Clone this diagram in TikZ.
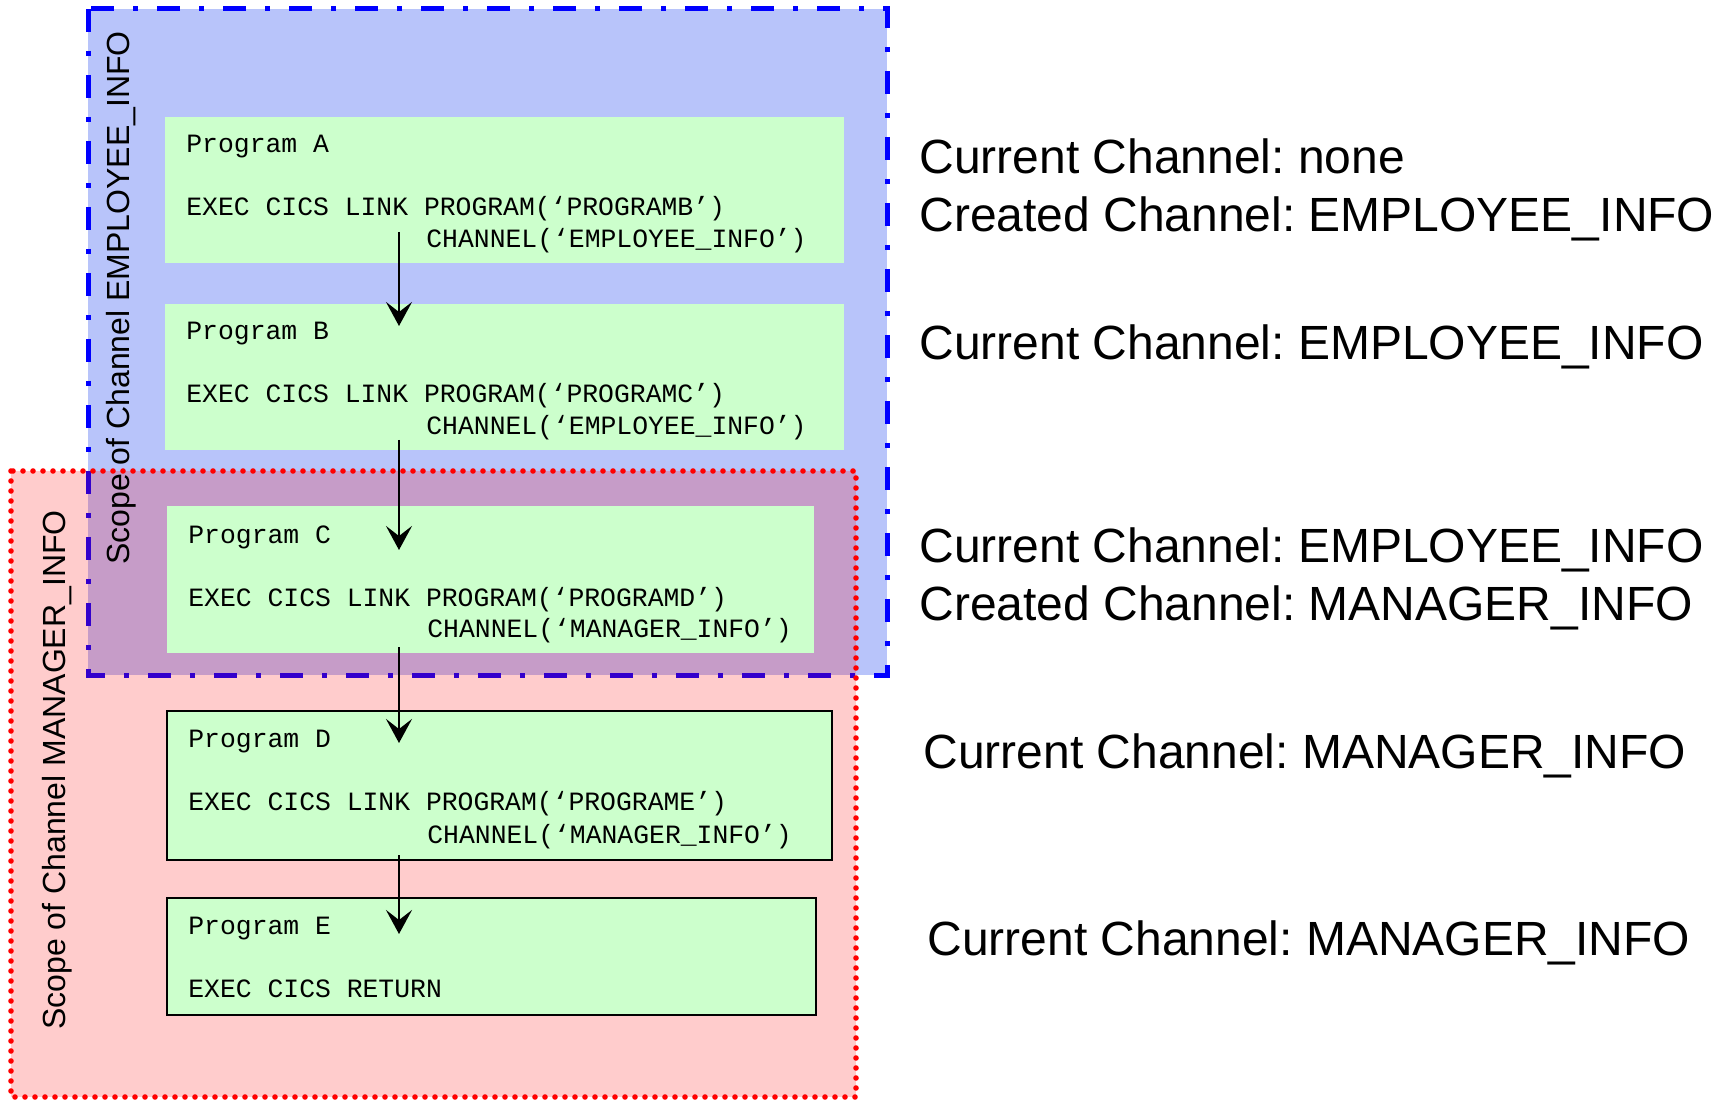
\documentclass[tikz,border=0pt]{standalone}
\usepackage{fontspec}
\setmainfont{Liberation Sans}
\newfontfamily\codefont{Liberation Mono}
\usetikzlibrary{arrows.meta}
\frenchspacing
\definecolor{scopeBlue}{RGB}{184,196,250}
\definecolor{progGreen}{RGB}{204,255,204}
\tikzset{
  prog/.style={fill=progGreen, inner sep=0pt, outer sep=0pt, anchor=north west},
  progframed/.style={prog, draw=black, line width=1.2pt},
  code/.style={font=\codefont\fontsize{13.2}{16}\selectfont, anchor=base west, inner sep=0pt},
  note/.style={font=\fontsize{24}{29}\selectfont, anchor=base west, inner sep=0pt},
  scopelbl/.style={font=\fontsize{16}{19}\selectfont, rotate=90, anchor=base, inner sep=0pt},
  flow/.style={line width=1.2pt, -{Stealth[length=12pt,width=13pt,inset=5pt]}},
  blueborder/.style={draw=blue, line width=2.5pt, dash pattern=on 11.5pt off 9.5pt on 2.5pt off 9.5pt},
  redborder/.style={draw=red, line width=2.8pt, line cap=round, dash pattern=on 0pt off 5pt}
}
\begin{document}
\begin{tikzpicture}[x=0.5pt,y=-0.5pt]
\useasboundingbox (0,0) rectangle (1725,1101);
% blue scope
\fill[scopeBlue] (88,9) rectangle (887,675);
\draw[blueborder] (88,9) rectangle (887,675);
% programs A and B
\node[prog, minimum width=339.5pt, minimum height=73pt] (A) at (165,117) {};
\node[prog, minimum width=339.5pt, minimum height=73pt] (B) at (165,304) {};
% red scope
\fill[red, opacity=0.2] (11,471) rectangle (856,1097);
\draw[redborder] (11,471) rectangle (856,1097);
% programs C, D, E
\node[prog, minimum width=323.5pt, minimum height=73.5pt] (C) at (167,506) {};
\node[progframed, minimum width=332.5pt, minimum height=74.5pt] (D) at (167,711) {};
\node[progframed, minimum width=324.5pt, minimum height=58.5pt] (E) at (167,898) {};
% scope labels
\node[scopelbl] (empLbl) at (129,298) {Scope of Channel EMPLOYEE\_INFO};
\node[scopelbl] (mgrLbl) at (65,770) {Scope of Channel MANAGER\_INFO};
% code text
\node[code] (a1) at (186,153) {Program A};
\node[code] (a2) at (186,216) {EXEC CICS LINK PROGRAM(‘PROGRAMB’)};
\node[code] (a3) at (426,248) {CHANNEL(‘EMPLOYEE\_INFO’)};
\node[code] (b1) at (186,340) {Program B};
\node[code] (b2) at (186,403) {EXEC CICS LINK PROGRAM(‘PROGRAMC’)};
\node[code] (b3) at (426,435) {CHANNEL(‘EMPLOYEE\_INFO’)};
\node[code] (c1) at (188,544) {Program C};
\node[code] (c2) at (188,606) {EXEC CICS LINK PROGRAM(‘PROGRAMD’)};
\node[code] (c3) at (427,638) {CHANNEL(‘MANAGER\_INFO’)};
\node[code] (d1) at (188,747) {Program D};
\node[code] (d2) at (188,810) {EXEC CICS LINK PROGRAM(‘PROGRAME’)};
\node[code] (d3) at (427,843) {CHANNEL(‘MANAGER\_INFO’)};
\node[code] (e1) at (188,934) {Program E};
\node[code] (e2) at (188,997) {EXEC CICS RETURN};
% arrows
\coordinate (ab0) at (399,232); \coordinate (ab1) at (399,326);
\coordinate (bc0) at (399,440); \coordinate (bc1) at (399,550);
\coordinate (cd0) at (399,647); \coordinate (cd1) at (399,743);
\coordinate (de0) at (399,855); \coordinate (de1) at (399,934);
\draw[flow] (ab0) -- (ab1);
\draw[flow] (bc0) -- (bc1);
\draw[flow] (cd0) -- (cd1);
\draw[flow] (de0) -- (de1);
% notes
\node[note] (n1) at (919,174) {Current Channel: none};
\node[note] (n2) at (919,232) {Created Channel: EMPLOYEE\_INFO};
\node[note] (n3) at (919,360) {Current Channel: EMPLOYEE\_INFO};
\node[note] (n4) at (919,562) {Current Channel: EMPLOYEE\_INFO};
\node[note] (n5) at (919,620) {Created Channel: MANAGER\_INFO};
\node[note] (n6) at (923,768) {Current Channel: MANAGER\_INFO};
\node[note] (n7) at (927,955) {Current Channel: MANAGER\_INFO};
\end{tikzpicture}
\end{document}
